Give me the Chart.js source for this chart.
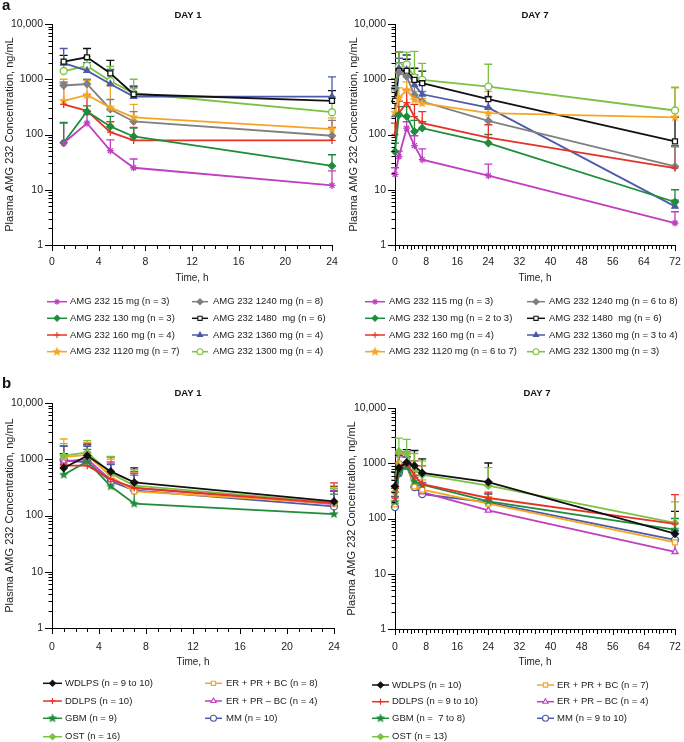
<!DOCTYPE html>
<html>
<head>
<meta charset="utf-8">
<script src="https://cdn.jsdelivr.net/npm/chart.js@4.4.1/dist/chart.umd.min.js"></script>
<style>
body { margin: 0; background: #fff; width: 684px; height: 742px; position: relative; overflow: hidden; }
canvas { position: absolute; }
</style>
</head>
<body>
<canvas id="a1" width="342" height="360" style="left:0;top:0"></canvas>
<canvas id="a7" width="342" height="360" style="left:342px;top:0"></canvas>
<canvas id="b1" width="342" height="382" style="left:0;top:360px"></canvas>
<canvas id="b7" width="342" height="382" style="left:342px;top:360px"></canvas>
<script>
// sampling times (h)
const timesDay1 = [1, 3, 5, 7, 24];
const timesDay7 = [0, 1, 3, 5, 7, 24, 72];
const yTickLabels = ['1', '10', '100', '1000', '10,000'];

// a: dose groups
const doseLabelsDay1 = ['AMG 232 15 mg (n = 3)', 'AMG 232 130 mg (n = 3)', 'AMG 232 160 mg (n = 4)', 'AMG 232 1120 mg (n = 7)',
    'AMG 232 1240 mg (n = 8)', 'AMG 232 1480  mg (n = 6)', 'AMG 232 1360 mg (n = 4)', 'AMG 232 1300 mg (n = 4)'];
const doseMeansDay1 = [
    [70, 160, 51, 25, 12],
    [71, 260, 140, 92, 27],
    [350, 268, 110, 78, 78],
    [405, 520, 307, 205, 125],
    [770, 820, 287, 172, 95],
    [2080, 2500, 1280, 535, 405],
    [1950, 1430, 820, 486, 486],
    [1410, 1740, 930, 558, 253]
];
const doseUpperDay1 = [
    [160, 230, 80, 36, 22],
    [165, 330, 213, 130, 43],
    [850, 520, 170, 135, 135],
    [1000, 950, 800, 350, 200],
    [900, 1000, 430, 260, 180],
    [2700, 3600, 2200, 750, 620],
    [3600, 2000, 1500, 700, 1100],
    [2000, 2600, 1700, 1000, 480]
];

const doseLabelsDay7 = ['AMG 232 115 mg (n = 3)', 'AMG 232 130 mg (n = 2 to 3)', 'AMG 232 160 mg (n = 4)', 'AMG 232 1120 mg (n = 6 to 7)',
    'AMG 232 1240 mg (n = 6 to 8)', 'AMG 232 1480  mg (n = 6)', 'AMG 232 1360 mg (n = 3 to 4)', 'AMG 232 1300 mg (n = 3)'];
const doseMeansDay7 = [
    [19, 40, 130, 63, 35, 18, 2.5],
    [49, 226, 211, 113, 130, 70, 6],
    [100, 243, 379, 211, 160, 88, 24.6],
    [250, 454, 641, 423, 368, 243, 205],
    [700, 1330, 1117, 521, 395, 177, 26.4],
    [405, 1415, 1415, 973, 847, 435, 75],
    [226, 1580, 1475, 790, 535, 307, 5],
    [650, 1695, 1866, 1070, 973, 736, 272]
];
const doseUpperDay7 = [
    [25, 50, 170, 95, 55, 29, 4],
    [70, 320, 320, 180, 170, 100, 10],
    [160, 400, 640, 350, 260, 150, 63],
    [400, 700, 900, 600, 450, 600, 700],
    [1000, 2000, 2750, 900, 600, 300, 60],
    [1000, 3100, 2300, 1580, 1400, 760, 206],
    [400, 2400, 2750, 1200, 800, 487, 6.5],
    [1000, 3100, 3100, 3200, 1945, 1867, 716]
];

// b: tumour types
const tumourLabelsDay1 = ['WDLPS (n = 9 to 10)', 'DDLPS (n = 10)', 'GBM (n = 9)', 'OST (n = 16)',
    'ER + PR + BC (n = 8)', 'ER + PR \u2013 BC (n = 4)', 'MM (n = 10)'];
const tumourMeansDay1 = [
    [698, 1156, 608, 388, 178],
    [768, 768, 446, 308, 165],
    [531, 916, 330, 162, 106],
    [1156, 1325, 560, 340, 170],
    [1090, 1200, 495, 268, 165],
    [916, 1000, 430, 310, 160],
    [960, 880, 405, 280, 145]
];
const tumourUpperDay1 = [
    [1260, 1800, 1100, 700, 330],
    [800, 1300, 850, 600, 380],
    [1000, 1500, 600, 400, 240],
    [1900, 2150, 1120, 650, 300],
    [2290, 2000, 1000, 580, 320],
    [1750, 1900, 900, 560, 280],
    [1700, 1700, 800, 520, 270]
];

const tumourLabelsDay7 = ['WDLPS (n = 10)', 'DDLPS (n = 9 to 10)', 'GBM (n =  7 to 8)', 'OST (n = 13)',
    'ER + PR + BC (n = 7)', 'ER + PR \u2013 BC (n = 4)', 'MM (n = 9 to 10)'];
const tumourMeansDay7 = [
    [381, 820, 1037, 904, 666, 457, 53],
    [235, 900, 1000, 600, 420, 235, 80],
    [200, 665, 890, 470, 409, 205, 63],
    [300, 1640, 1500, 750, 620, 393, 83],
    [180, 1000, 950, 380, 332, 185, 37],
    [200, 850, 900, 400, 300, 140, 25],
    [161, 665, 900, 371, 277, 196, 41]
];
const tumourUpperDay7 = [
    [700, 1400, 1760, 1700, 1200, 1010, 135],
    [350, 1500, 1600, 1100, 900, 300, 270],
    [300, 1000, 1300, 700, 600, 280, 100],
    [500, 2860, 2700, 1500, 1100, 830, 200],
    [300, 1500, 1400, 600, 500, 250, 60],
    [300, 1300, 1300, 600, 450, 200, 40],
    [250, 1000, 1300, 550, 400, 280, 60]
];

const FONT = '"Liberation Sans", Arial, sans-serif';
Chart.defaults.font.family = FONT;
Chart.defaults.color = '#222';

const MAGENTA = '#bf3fbf', GREEN = '#1f8c3b', RED = '#e5332a', ORANGE = '#f6a623',
      GRAY = '#808080', BLACK = '#111111', BLUE = '#4c5ba9', LIME = '#7cc242';

function starImage(color, r) {
    const c = document.createElement('canvas');
    const s = Math.ceil(r * 2 + 2);
    c.width = c.height = s;
    const g = c.getContext('2d');
    g.fillStyle = color;
    g.beginPath();
    for (let i = 0; i < 10; i++) {
        const rad = i % 2 ? r * 0.45 : r;
        const a = -Math.PI / 2 + i * Math.PI / 5;
        g.lineTo(s / 2 + rad * Math.cos(a), s / 2 + rad * Math.sin(a));
    }
    g.closePath();
    g.fill();
    return c;
}

const doseStyles = [
    { color: MAGENTA, style: 'star' },
    { color: GREEN, style: 'rectRot' },
    { color: RED, style: 'cross' },
    { color: ORANGE, style: starImage(ORANGE, 5) },
    { color: GRAY, style: 'rectRot' },
    { color: BLACK, style: 'rect', fill: '#fff' },
    { color: BLUE, style: 'triangle' },
    { color: LIME, style: 'circle', fill: '#fff' }
];
const tumourStyles = [
    { color: BLACK, style: 'rectRot' },
    { color: RED, style: 'cross' },
    { color: GREEN, style: starImage(GREEN, 5) },
    { color: LIME, style: 'rectRot' },
    { color: ORANGE, style: 'rect', fill: '#fff' },
    { color: MAGENTA, style: 'triangle', fill: '#fff' },
    { color: BLUE, style: 'circle', fill: '#fff' }
];

function buildDatasets(times, means, upper, labels, styles) {
    return means.map((m, i) => ({
        label: labels[i],
        data: times.map((t, j) => ({ x: t, y: m[j] })),
        errUp: upper[i],
        borderColor: styles[i].color,
        backgroundColor: styles[i].fill || styles[i].color,
        pointStyle: styles[i].style,
        pointRadius: 3.5,
        pointBorderWidth: 1.3,
        borderWidth: 1.8,
        tension: 0,
        clip: false
    }));
}

// upper error bars (mean + SD)
const errorBars = {
    id: 'errorBars',
    beforeDatasetsDraw(chart) {
        const { ctx } = chart;
        const xs = chart.scales.x, ys = chart.scales.y;
        ctx.save();
        ctx.lineWidth = 1.3;
        chart.data.datasets.forEach(ds => {
            ctx.strokeStyle = ds.borderColor;
            ctx.beginPath();
            ds.data.forEach((p, j) => {
                const top = ds.errUp[j];
                if (top == null || top <= p.y) return;
                const x = xs.getPixelForValue(p.x);
                const y0 = ys.getPixelForValue(p.y), y1 = ys.getPixelForValue(top);
                ctx.moveTo(x, y0); ctx.lineTo(x, y1);
                ctx.moveTo(x - 4, y1); ctx.lineTo(x + 4, y1);
            });
            ctx.stroke();
        });
        ctx.restore();
    }
};

// tick marks: long for labelled values, short for the rest
const axisTicks = {
    id: 'axisTicks',
    afterDraw(chart, args, o) {
        const { ctx } = chart;
        const xs = chart.scales.x, ys = chart.scales.y;
        ctx.save();
        ctx.strokeStyle = '#000';
        ctx.lineWidth = 1;
        ctx.beginPath();
        xs.ticks.forEach(t => {
            const px = Math.round(xs.getPixelForValue(t.value)) + 0.5;
            let len = 4;
            if (t.value % o.xMajor === 0) len = 6;
            else if (o.xMid && t.value % o.xMid === 0) len = 5;
            ctx.moveTo(px, xs.top); ctx.lineTo(px, xs.top + len);
        });
        ys.ticks.forEach(t => {
            const py = Math.round(ys.getPixelForValue(t.value)) + 0.5;
            const major = [1, 10, 100, 1000, 10000].includes(t.value);
            ctx.moveTo(ys.right, py); ctx.lineTo(ys.right - (major ? 7 : 3.5), py);
        });
        ctx.stroke();
        ctx.restore();
    }
};

const panelText = {
    id: 'panelText',
    afterDraw(chart, args, o) {
        const { ctx } = chart;
        ctx.save();
        ctx.fillStyle = '#111';
        ctx.font = 'bold 9.5px ' + FONT;
        ctx.textAlign = 'center';
        ctx.textBaseline = 'middle';
        ctx.fillText(o.title, o.titleX, o.titleY);
        if (o.letter) {
            ctx.font = 'bold 15px ' + FONT;
            ctx.textAlign = 'left';
            ctx.textBaseline = 'alphabetic';
            ctx.fillText(o.letter, 2, o.letterY);
        }
        ctx.restore();
    }
};

const pkLegend = {
    id: 'pkLegend',
    afterDraw(chart, args, o) {
        const { ctx } = chart;
        ctx.save();
        ctx.font = '9.5px ' + FONT;
        ctx.textBaseline = 'middle';
        ctx.textAlign = 'left';
        chart.data.datasets.forEach((ds, i) => {
            const c = o.cols[i < 4 ? 0 : 1];
            const y = o.rows[i % 4];
            ctx.strokeStyle = ds.borderColor;
            ctx.lineWidth = 1.5;
            ctx.beginPath();
            ctx.moveTo(c.x0, y); ctx.lineTo(c.x1, y);
            ctx.stroke();
            ctx.fillStyle = ds.backgroundColor;
            ctx.lineWidth = 1.1;
            Chart.helpers.drawPoint(ctx, { pointStyle: ds.pointStyle, radius: 3, borderWidth: 1.1, rotation: 0 }, (c.x0 + c.x1) / 2, y);
            ctx.fillStyle = '#222';
            ctx.fillText(ds.label, c.tx, y);
        });
        ctx.restore();
    }
};

const logTicks = [];
for (let p = 0; p < 4; p++) for (let k = 1; k < 10; k++) logTicks.push(k * Math.pow(10, p));
logTicks.push(10000);

function makePanel(id, o) {
    return new Chart(document.getElementById(id), {
        type: 'line',
        data: { datasets: o.datasets },
        options: {
            responsive: false,
            animation: false,
            layout: { padding: o.padding },
            plugins: {
                legend: { display: false },
                tooltip: { enabled: false },
                axisTicks: { xMajor: o.xLabelStep, xMid: o.xMid },
                panelText: o.text,
                pkLegend: o.legend
            },
            scales: {
                x: {
                    type: 'linear', min: 0, max: o.xMax,
                    afterFit: s => {
                        s.height = o.xHeight;
                        s.paddingLeft = 0;
                        s.paddingRight = 0;
                    },
                    afterBuildTicks: s => {
                        const t = [];
                        for (let h = 0; h <= o.xMax; h++) t.push({ value: h });
                        s.ticks = t;
                    },
                    grid: { display: false, drawTicks: false },
                    border: { display: true, color: '#000', width: 1 },
                    ticks: {
                        autoSkip: false, maxRotation: 0,
                        padding: o.xTickPad, font: { size: 10.5 },
                        callback: v => (v % o.xLabelStep === 0 ? String(v) : '')
                    },
                    title: { display: true, text: 'Time, h', font: { size: 10 }, padding: { top: 0, bottom: 4 } }
                },
                y: {
                    type: 'logarithmic', min: 1, max: 10000,
                    afterFit: s => {
                        s.width = o.yWidth;
                        s.paddingTop = 0;
                        s.paddingBottom = 0;
                    },
                    afterBuildTicks: s => { s.ticks = logTicks.map(v => ({ value: v })); },
                    grid: { display: false, drawTicks: false },
                    border: { display: true, color: '#000', width: 1 },
                    ticks: {
                        autoSkip: false, padding: 9, font: { size: 10.5 },
                        callback: v => {
                            const e = Math.log10(v);
                            return Math.abs(e - Math.round(e)) < 1e-9 ? yTickLabels[Math.round(e)] : '';
                        }
                    },
                    title: { display: true, text: 'Plasma AMG 232 Concentration, ng/mL', font: { size: 11 }, padding: { top: o.yTitlePad, bottom: 0 } }
                }
            }
        },
        plugins: [errorBars, axisTicks, panelText, pkLegend]
    });
}

const rowsA = [301.7, 318.3, 335, 351.7];

makePanel('a1', {
    datasets: buildDatasets(timesDay1, doseMeansDay1, doseUpperDay1, doseLabelsDay1, doseStyles),
    padding: { top: 24, right: 10, bottom: 72, left: 0 },
    xMax: 24, xLabelStep: 4, xHeight: 43, xTickPad: 11, yWidth: 52, yTitlePad: 3,
    text: { title: 'DAY 1', titleX: 188, titleY: 15, letter: 'a', letterY: 10 },
    legend: { rows: rowsA, cols: [{ x0: 47, x1: 67, tx: 70 }, { x0: 192, x1: 208, tx: 213 }] }
});

makePanel('a7', {
    datasets: buildDatasets(timesDay7, doseMeansDay7, doseUpperDay7, doseLabelsDay7, doseStyles),
    padding: { top: 24, right: 9, bottom: 72, left: 0 },
    xMax: 72, xLabelStep: 8, xMid: 4, xHeight: 43, xTickPad: 11, yWidth: 53, yTitlePad: 5,
    text: { title: 'DAY 7', titleX: 193, titleY: 15 },
    legend: { rows: rowsA, cols: [{ x0: 23, x1: 43, tx: 47 }, { x0: 185, x1: 203, tx: 207 }] }
});

makePanel('b1', {
    datasets: buildDatasets(timesDay1, tumourMeansDay1, tumourUpperDay1, tumourLabelsDay1, tumourStyles),
    padding: { top: 43, right: 8, bottom: 70, left: 0 },
    xMax: 24, xLabelStep: 4, xHeight: 44, xTickPad: 13, yWidth: 52, yTitlePad: 3,
    text: { title: 'DAY 1', titleX: 188, titleY: 33, letter: 'b', letterY: 28 },
    legend: { rows: [323.3, 341, 358.3, 376.7], cols: [{ x0: 43, x1: 62, tx: 65 }, { x0: 205, x1: 222, tx: 226 }] }
});

makePanel('b7', {
    datasets: buildDatasets(timesDay7, tumourMeansDay7, tumourUpperDay7, tumourLabelsDay7, tumourStyles),
    padding: { top: 48, right: 9, bottom: 70, left: 0 },
    xMax: 72, xLabelStep: 8, xMid: 4, xHeight: 43, xTickPad: 12, yWidth: 53, yTitlePad: 3,
    text: { title: 'DAY 7', titleX: 195, titleY: 33 },
    legend: { rows: [325, 341.7, 358.3, 376.7], cols: [{ x0: 30, x1: 47, tx: 50 }, { x0: 195, x1: 212, tx: 215 }] }
});
</script>
</body>
</html>
